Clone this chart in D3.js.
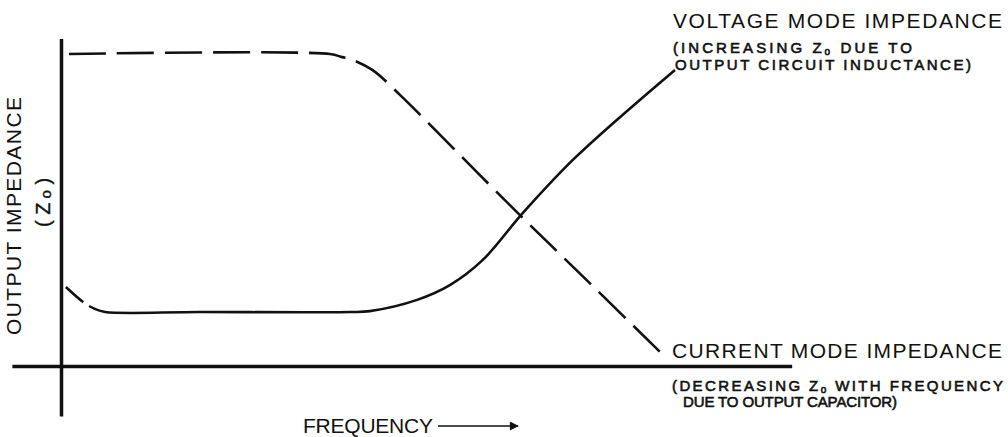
<!DOCTYPE html>
<html>
<head>
<meta charset="utf-8">
<script src="https://cdn.jsdelivr.net/npm/d3@7"></script>
<style>
  body { margin: 0; background: #fff; }
  text { font-family: "Liberation Sans", Arial, sans-serif; fill: #111; }
</style>
</head>
<body>
<div id="chart"></div>
<script>
// frequency (0-100, arbitrary) vs output impedance (0-100, arbitrary)
const voltageFreq = [0.8, 3.6, 5.5, 7.2, 22.6, 47.1, 50.3, 58, 63.4, 68.7, 75.2, 83.7, 100];
const voltageZ    = [25.3, 20.5, 18.3, 17.3, 17.3, 17.3, 17.6, 21.2, 26, 34, 49, 66.7, 94.9];

const currentFreq = [1.3, 43.8, 45.8, 47.1, 50.7, 55.2, 59, 73.6, 86.2, 98.4];
const currentZ    = [100, 100, 99, 98.4, 94.9, 86.9, 79.5, 50.6, 26.4, 2.9];

const xAxisExtent = [-8, 119];
const yAxisExtent = [-16, 105];

const voltageLabel = ["VOLTAGE  MODE  IMPEDANCE", "(INCREASING ", " DUE TO", "OUTPUT  CIRCUIT  INDUCTANCE)"];
const currentLabel = ["CURRENT  MODE  IMPEDANCE", "(DECREASING ", " WITH FREQUENCY", "DUE TO  OUTPUT  CAPACITOR)"];

(function () {
    var width = 1008, height = 437;

    var svg = d3.select("#chart")
        .append("svg")
        .attr("width", width)
        .attr("height", height);

    // SCALES
    var x = d3.scaleLinear().domain([0, 100]).range([61, 675]);
    var y = d3.scaleLinear().domain([0, 100]).range([366, 54]);

    // AXES (no ticks, just the lines)
    var xAxisScale = d3.scaleLinear().domain(xAxisExtent).range(xAxisExtent.map(x));
    var yAxisScale = d3.scaleLinear().domain(yAxisExtent).range(yAxisExtent.map(y));

    svg.append("g")
        .attr("transform", "translate(0," + y(0) + ")")
        .call(d3.axisBottom(xAxisScale).tickValues([]).tickSizeOuter(0))
        .select(".domain").attr("stroke", "#111").attr("stroke-width", 3.5);

    svg.append("g")
        .attr("transform", "translate(" + x(0) + ",0)")
        .call(d3.axisLeft(yAxisScale).tickValues([]).tickSizeOuter(0))
        .select(".domain").attr("stroke", "#111").attr("stroke-width", 3.5);

    // CURVES
    var line = d3.line()
        .x(d => x(d[0]))
        .y(d => y(d[1]))
        .curve(d3.curveCatmullRom.alpha(0.5));

    svg.append("path")
        .datum(d3.zip(currentFreq, currentZ))
        .attr("d", line)
        .attr("fill", "none")
        .attr("stroke", "#111")
        .attr("stroke-width", 2.6)
        .attr("stroke-dasharray", "37,11");

    svg.append("path")
        .datum(d3.zip(voltageFreq, voltageZ))
        .attr("d", line)
        .attr("fill", "none")
        .attr("stroke", "#111")
        .attr("stroke-width", 2.6)
        .attr("stroke-dasharray", "23,7,3000");

    // LABELS
    function bigText(t, px, py, len) {
        svg.append("text")
            .attr("x", px).attr("y", py)
            .attr("font-size", 21)
            .attr("textLength", len)
            .attr("lengthAdjust", "spacing")
            .text(t);
    }
    function smallText(parts, px, py, len) {
        var t = svg.append("text")
            .attr("x", px).attr("y", py)
            .attr("font-size", 15)
            .attr("stroke", "#111")
            .attr("stroke-width", 0.6)
            .attr("textLength", len)
            .attr("lengthAdjust", "spacing");
        if (parts.length == 1) { t.text(parts[0]); return; }
        t.append("tspan").text(parts[0]);
        t.append("tspan").text("Z");
        t.append("tspan").attr("font-size", 10).attr("dy", 2).text("o");
        t.append("tspan").attr("dy", -2).text(parts[1]);
    }

    bigText(voltageLabel[0], 673, 28, 329);
    smallText([voltageLabel[1], voltageLabel[2]], 673, 53, 239);
    smallText([voltageLabel[3]], 675, 70, 296);

    bigText(currentLabel[0], 672, 358, 330);
    smallText([currentLabel[1], currentLabel[2]], 672, 391, 331);
    smallText([currentLabel[3]], 683, 407, 214);

    // y title
    svg.append("text")
        .attr("transform", "translate(20.5,335) rotate(-90)")
        .attr("font-size", 21)
        .attr("textLength", 238)
        .attr("lengthAdjust", "spacing")
        .text("OUTPUT  IMPEDANCE");

    var zt = svg.append("text")
        .attr("transform", "translate(50,227) rotate(-90)")
        .attr("font-size", 20)
        .attr("stroke", "#111")
        .attr("stroke-width", 0.4);
    zt.append("tspan").text("( Z");
    zt.append("tspan").attr("font-size", 15).attr("dy", 1).text(" o");
    zt.append("tspan").attr("dy", -1).text(" )");

    // x title with arrow
    svg.append("text")
        .attr("x", 303).attr("y", 433)
        .attr("font-size", 21)
        .attr("textLength", 130)
        .attr("lengthAdjust", "spacing")
        .text("FREQUENCY");

    svg.append("defs").append("marker")
        .attr("id", "arrow")
        .attr("viewBox", "0 0 10 10")
        .attr("refX", 9).attr("refY", 5)
        .attr("markerWidth", 14).attr("markerHeight", 9)
        .attr("markerUnits", "userSpaceOnUse")
        .attr("orient", "auto")
        .append("path")
        .attr("d", "M0,0 L10,5 L0,10 Z")
        .attr("fill", "#111");

    svg.append("line")
        .attr("x1", 438).attr("x2", 518)
        .attr("y1", 426).attr("y2", 426)
        .attr("stroke", "#111")
        .attr("stroke-width", 1.5)
        .attr("marker-end", "url(#arrow)");
})()
</script>
</body>
</html>
